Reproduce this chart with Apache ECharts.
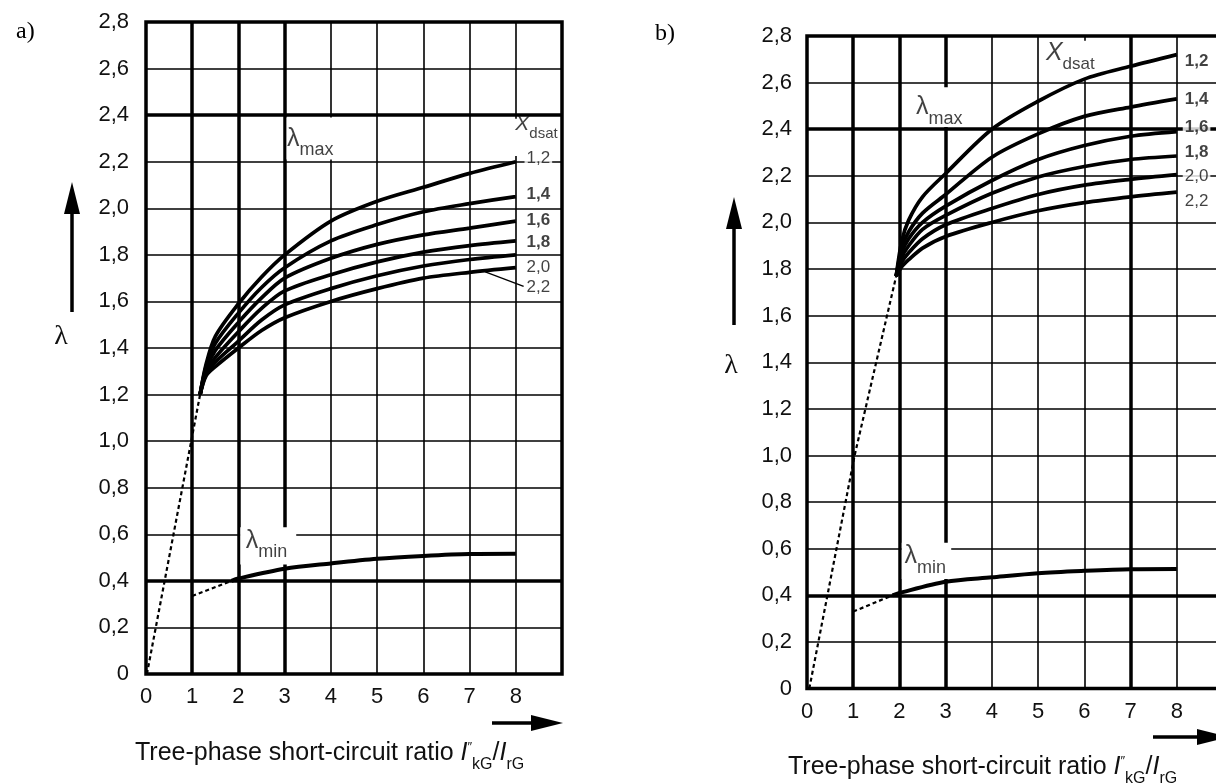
<!DOCTYPE html>
<html><head><meta charset="utf-8">
<script src="https://cdn.jsdelivr.net/npm/echarts@6/dist/echarts.min.js"></script>
<style>html,body{margin:0;padding:0;background:#fff}#c{width:1216px;height:783px}</style>
</head><body><div id="c"></div>
<script>
// ---------- data ----------
const xdsatLabels = ['1,2', '1,4', '1,6', '1,8', '2,0', '2,2'];

// panel a) lambda_max curves, x_dsat = 1.2 ... 2.2
const aMaxX  = [1.17, 1.3, 1.5, 2, 2.5, 3, 4, 5, 6, 7, 8];
const aMax12 = [1.20, 1.33, 1.45, 1.59, 1.705, 1.80, 1.945, 2.03, 2.09, 2.15, 2.20];
const aMax14 = [1.20, 1.32, 1.42, 1.55, 1.66, 1.745, 1.86, 1.93, 1.985, 2.02, 2.05];
const aMax16 = [1.20, 1.31, 1.39, 1.51, 1.615, 1.70, 1.785, 1.845, 1.886, 1.915, 1.945];
const aMax18 = [1.20, 1.30, 1.36, 1.47, 1.57, 1.645, 1.715, 1.77, 1.812, 1.84, 1.86];
const aMax20 = [1.20, 1.29, 1.34, 1.43, 1.52, 1.585, 1.655, 1.71, 1.752, 1.78, 1.80];
const aMax22 = [1.20, 1.28, 1.32, 1.40, 1.475, 1.53, 1.60, 1.655, 1.70, 1.725, 1.745];
const aDashX = [0.02, 1.17];
const aDashY = [0.00, 1.20];
const aMinDashX = [1.0, 1.85];
const aMinDashY = [0.335, 0.40];
const aMinX = [1.85, 2, 3, 4, 5, 6, 7, 8];
const aMinY = [0.40, 0.41, 0.452, 0.475, 0.495, 0.507, 0.515, 0.516];

// panel b) lambda_max curves
const bMaxX  = [1.93, 2.05, 2.2, 2.5, 3, 4, 5, 6, 7, 8];
const bMax12 = [1.77, 1.92, 2.01, 2.11, 2.21, 2.40, 2.52, 2.615, 2.67, 2.72];
const bMax14 = [1.77, 1.89, 1.96, 2.04, 2.12, 2.28, 2.38, 2.455, 2.495, 2.53];
const bMax16 = [1.77, 1.87, 1.93, 2.00, 2.07, 2.18, 2.27, 2.33, 2.37, 2.39];
const bMax18 = [1.77, 1.85, 1.90, 1.97, 2.03, 2.125, 2.195, 2.24, 2.27, 2.285];
const bMax20 = [1.77, 1.83, 1.87, 1.93, 1.99, 2.06, 2.12, 2.16, 2.185, 2.205];
const bMax22 = [1.77, 1.81, 1.84, 1.89, 1.94, 2.00, 2.05, 2.085, 2.11, 2.13];
const bDashX = [0.05, 1.03, 1.93];
const bDashY = [0.00, 1.00, 1.77];
const bMinDashX = [1.0, 1.85];
const bMinDashY = [0.33, 0.40];
const bMinX = [1.85, 2, 3, 4, 5, 6, 7, 8];
const bMinY = [0.40, 0.41, 0.458, 0.477, 0.495, 0.505, 0.512, 0.513];

// heavy grid lines
const aThickX = [1, 2, 3];
const bThickX = [1, 2, 3, 7];
const thickY = [0.4, 2.4];

// positions of in-plot labels (data coords)
const aLabelX = 8.2;
const aLabelY = [2.213, 2.056, 1.948, 1.853, 1.745, 1.659];
const aLabelBold = [false, true, true, true, false, false];
const bLabelX = 8.14;
const bLabelY = [2.69, 2.526, 2.405, 2.30, 2.197, 2.09];
const bLabelBold = [true, true, true, true, false, false];
const aLeader = [[7.34, 1.727], [8.17, 1.665]];

// ---------- helpers ----------
const FONT = '"Liberation Sans", Arial, sans-serif';
const SERIF = '"Liberation Serif", "Times New Roman", serif';
const pairs = (xs, ys) => xs.map((x, i) => [x, ys[i]]);
const fmtY = v => (Math.abs(v) < 1e-9 ? '0' : v.toFixed(1).replace('.', ','));
const fmtX = v => (v > 8.5 ? '' : String(Math.round(v)));

function xAxisDef(g) {
  return {
    gridIndex: g, type: 'value', min: 0, max: 9, interval: 1,
    axisLine: { show: false }, axisTick: { show: false },
    splitLine: { show: true, lineStyle: { color: '#000', width: 1.6 } },
    axisLabel: { margin: 12, formatter: fmtX, fontFamily: FONT, fontSize: 22, color: '#111', hideOverlap: false }
  };
}
function yAxisDef(g, margin) {
  return {
    gridIndex: g, type: 'value', min: 0, max: 2.8, interval: 0.2,
    axisLine: { show: false }, axisTick: { show: false },
    splitLine: { show: true, lineStyle: { color: '#000', width: 1.6 } },
    axisLabel: { margin: margin, formatter: fmtY, fontFamily: FONT, fontSize: 22, color: '#111', hideOverlap: false }
  };
}

function curve(p, xs, ys, width, dashed, smooth) {
  return {
    type: 'line', xAxisIndex: p, yAxisIndex: p, z: 3, symbol: 'none', silent: true,
    smooth: smooth, animation: false,
    lineStyle: { color: '#000', width: width, type: dashed ? [4, 3] : 'solid', cap: 'butt' },
    data: pairs(xs, ys)
  };
}

function textLabel(x, y, main, sub, mainSize, subSize, italic) {
  return {
    value: [x, y],
    label: {
      show: true, position: [0, 0], align: 'left', verticalAlign: 'bottom',
      formatter: '{g|' + main + '}{s|' + sub + '}',
      rich: {
        g: { fontFamily: FONT, fontSize: mainSize, lineHeight: mainSize, verticalAlign: 'top', color: '#111', fontStyle: italic ? 'italic' : 'normal' },
        s: { fontFamily: FONT, fontSize: subSize, lineHeight: mainSize + subSize * 0.45, verticalAlign: 'bottom', color: '#111' }
      }
    }
  };
}

function panel(p, d) {
  const s = [];
  s.push({
    type: 'line', xAxisIndex: p, yAxisIndex: p, data: [], silent: true, animation: false,
    markLine: {
      silent: true, z: 1, symbol: ['none', 'none'], animation: false, label: { show: false },
      lineStyle: { color: '#000', width: 3.5, type: 'solid' },
      emphasis: { disabled: true },
      data: d.thickX.map(v => ({ xAxis: v })).concat(thickY.map(v => ({ yAxis: v })))
    }
  });
  s.push({
    type: 'line', xAxisIndex: p, yAxisIndex: p, data: [], silent: true, animation: false,
    markArea: {
      silent: true, z: 2, animation: false, label: { show: false },
      itemStyle: { color: '#fff', opacity: 1, borderWidth: 0 },
      emphasis: { disabled: true },
      data: d.masks.map(m => [{ coord: [m[0], m[1]] }, { coord: [m[2], m[3]] }])
    }
  });
  d.maxY.forEach(ys => s.push(curve(p, d.maxX, ys, 3.7, false, 0.3)));
  s.push(curve(p, d.dashX, d.dashY, 2.2, true, false));
  s.push(curve(p, d.minDashX, d.minDashY, 2.2, true, false));
  s.push(curve(p, d.minX, d.minY, 4, false, 0.3));
  if (d.leader) {
    s.push({ type: 'line', xAxisIndex: p, yAxisIndex: p, z: 3, symbol: 'none', silent: true, animation: false,
      lineStyle: { color: '#000', width: 1.3 }, data: d.leader });
  }
  const labels = d.texts.slice();
  xdsatLabels.forEach((t, i) => labels.push({
    value: [d.labelX, d.labelY[i]],
    label: {
      show: true, position: [0, 0], align: 'left', verticalAlign: 'middle', formatter: t,
      fontFamily: FONT, fontSize: 17, color: '#111', fontWeight: d.labelBold[i] ? 'bold' : 'normal',
      backgroundColor: '#fff', padding: [0, 2, 0, 2]
    }
  }));
  s.push({
    type: 'scatter', xAxisIndex: p, yAxisIndex: p, z: 4, symbolSize: 1, silent: true, animation: false,
    itemStyle: { color: 'rgba(0,0,0,0)' }, data: labels
  });
  return s;
}

const series = [].concat(
  panel(0, {
    thickX: aThickX, maxX: aMaxX, maxY: [aMax12, aMax14, aMax16, aMax18, aMax20, aMax22],
    dashX: aDashX, dashY: aDashY, minDashX: aMinDashX, minDashY: aMinDashY, minX: aMinX, minY: aMinY,
    labelX: aLabelX, labelY: aLabelY, labelBold: aLabelBold, leader: aLeader,
    masks: [[3.04, 2.21, 4.3, 2.39], [2.04, 0.47, 3.25, 0.63], [7.97, 2.225, 8.95, 2.385]],
    texts: [
      textLabel(3.06, 2.208, 'λ', 'max', 25, 18, false),
      textLabel(2.17, 0.482, 'λ', 'min', 25, 18, false),
      textLabel(8.0, 2.287, 'X', 'dsat', 21, 15, true)
    ]
  }),
  panel(1, {
    thickX: bThickX, maxX: bMaxX, maxY: [bMax12, bMax14, bMax16, bMax18, bMax20, bMax22],
    dashX: bDashX, dashY: bDashY, minDashX: bMinDashX, minDashY: bMinDashY, minX: bMinX, minY: bMinY,
    labelX: bLabelX, labelY: bLabelY, labelBold: bLabelBold, leader: null,
    masks: [[2.36, 2.41, 3.5, 2.58], [2.05, 0.47, 3.12, 0.625], [5.15, 2.61, 6.35, 2.78]],
    texts: [
      textLabel(2.37, 2.403, 'λ', 'max', 25, 18, false),
      textLabel(2.12, 0.478, 'λ', 'min', 25, 18, false),
      textLabel(5.18, 2.64, 'X', 'dsat', 25, 17, true)
    ]
  })
);

const titleRich = {
  n: { fontFamily: FONT, fontSize: 25, lineHeight: 25, verticalAlign: 'top', fill: '#111', color: '#111' },
  i: { fontFamily: FONT, fontSize: 25, lineHeight: 25, verticalAlign: 'top', fontStyle: 'italic', fill: '#111', color: '#111' },
  p: { fontFamily: FONT, fontSize: 13, lineHeight: 25, verticalAlign: 'top', fill: '#111', color: '#111' },
  b: { fontFamily: FONT, fontSize: 16, lineHeight: 32, verticalAlign: 'bottom', fill: '#111', color: '#111' }
};
const titleText = '{n|Tree-phase short-circuit ratio }{i|I}{p|\u2033}{b|kG}{n|/}{i|I}{b|rG}';

function vArrow(x, yBottom, yTip) {
  return [
    { type: 'line', silent: true, shape: { x1: x, y1: yBottom, x2: x, y2: yTip + 20 }, style: { stroke: '#000', lineWidth: 3.5 } },
    { type: 'polygon', silent: true, shape: { points: [[x, yTip], [x - 8, yTip + 32], [x + 8, yTip + 32]] }, style: { fill: '#000' } }
  ];
}
function hArrow(y, xStart, xTip) {
  return [
    { type: 'line', silent: true, shape: { x1: xStart, y1: y, x2: xTip - 20, y2: y }, style: { stroke: '#000', lineWidth: 3.5 } },
    { type: 'polygon', silent: true, shape: { points: [[xTip, y], [xTip - 32, y - 8], [xTip - 32, y + 8]] }, style: { fill: '#000' } }
  ];
}

const graphic = [
  { type: 'text', silent: true, x: 16, y: 32, style: { text: 'a)', font: '24px ' + SERIF, fill: '#000', verticalAlign: 'middle' } },
  { type: 'text', silent: true, x: 655, y: 34, style: { text: 'b)', font: '24px ' + SERIF, fill: '#000', verticalAlign: 'middle' } },
  { type: 'text', silent: true, x: 61, y: 337, style: { text: 'λ', font: '28px ' + SERIF, fill: '#111', align: 'center', verticalAlign: 'middle' } },
  { type: 'text', silent: true, x: 731, y: 366, style: { text: 'λ', font: '28px ' + SERIF, fill: '#111', align: 'center', verticalAlign: 'middle' } },
  { type: 'text', silent: true, x: 135, y: 757, style: { text: titleText, rich: titleRich, align: 'left', verticalAlign: 'middle' } },
  { type: 'text', silent: true, x: 788, y: 771, style: { text: titleText, rich: titleRich, align: 'left', verticalAlign: 'middle' } }
].concat(vArrow(72, 312, 182), vArrow(734, 325, 197), hArrow(723, 492, 563), hArrow(737, 1153, 1229));

const chart = echarts.init(document.getElementById('c'), null, { renderer: 'canvas', width: 1216, height: 783 });
chart.setOption({
  animation: false,
  backgroundColor: '#fff',
  grid: [
    { left: 146, top: 22, width: 416, height: 652, show: true, borderColor: '#000', borderWidth: 3.5, backgroundColor: 'transparent', containLabel: false, outerBoundsMode: 'none' },
    { left: 807, top: 36, width: 416, height: 652.5, show: true, borderColor: '#000', borderWidth: 3.5, backgroundColor: 'transparent', containLabel: false, outerBoundsMode: 'none' }
  ],
  xAxis: [xAxisDef(0), xAxisDef(1)],
  yAxis: [yAxisDef(0, 17), yAxisDef(1, 15)],
  series: series,
  graphic: graphic
});
</script>
</body></html>
